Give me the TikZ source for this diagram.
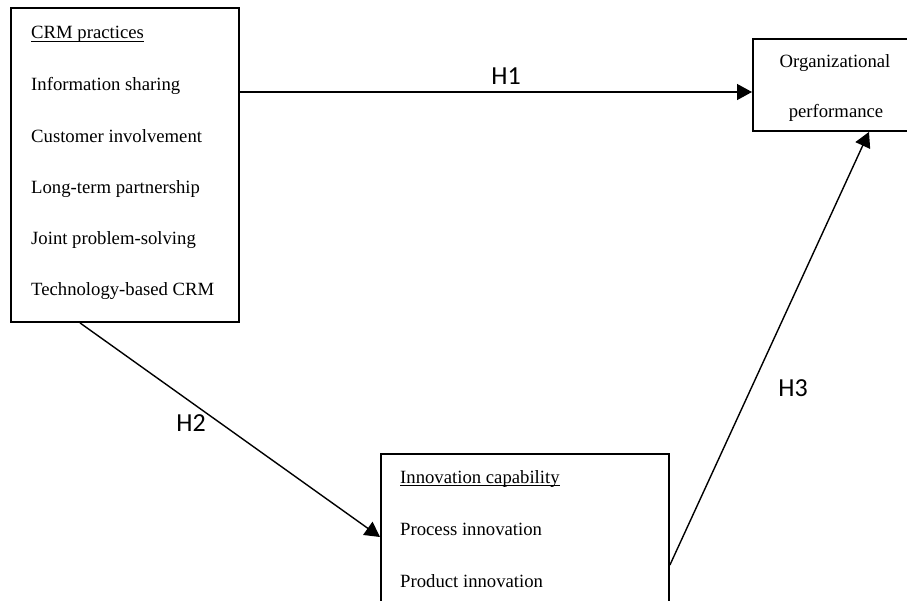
\documentclass[tikz,border=0pt]{standalone}
\usepackage{fontspec}
\setmainfont{Liberation Serif}
\newfontfamily\hfont{Carlito}
\usetikzlibrary{arrows.meta}
\newcommand\myul[1]{\setbox0\hbox{#1}\rlap{\rule[-3.2pt]{\wd0}{1pt}}\box0}
\tikzset{
  box/.style={draw, line width=1.9pt, rectangle, anchor=north west, inner sep=0pt},
  txt/.style={anchor=base west, inner sep=0pt, font=\fontsize{18.7}{20}\selectfont},
  ctxt/.style={anchor=base, inner sep=0pt, font=\fontsize{18.7}{20}\selectfont},
  hyp/.style={inner sep=0pt, font=\hfont\fontsize{26}{28}\selectfont},
  arr/.style={line width=1.4pt, -{Triangle[length=15pt,width=16pt]}}
}
\begin{document}
\begin{tikzpicture}[x=1pt,y=-1pt]
\clip (0,0) rectangle (907,600);
\fill[white] (0,0) rectangle (907,600);
% boxes
\node[box, minimum width=228pt, minimum height=314pt] (crm) at (10,7) {};
\node[box, minimum width=170pt, minimum height=92pt] (org) at (752,38) {};
\node[box, minimum width=288pt, minimum height=180pt] (inn) at (380,453) {};
% CRM texts
\node[txt] (c0) at (31,38.5) {\myul{CRM practices}};
\node[txt] (c1) at (31,90.5) {Information sharing};
\node[txt] (c2) at (31,142) {Customer involvement};
\node[txt] (c3) at (31,193) {Long-term partnership};
\node[txt] (c4) at (31,244) {Joint problem-solving};
\node[txt] (c5) at (31,295.5) {Technology-based CRM};
% org texts
\node[ctxt] (o1) at (835,67) {Organizational};
\node[ctxt] (o2) at (836,117) {performance};
% innovation texts
\node[txt] (i0) at (400,483) {\myul{Innovation capability}};
\node[txt] (i1) at (400,535) {Process innovation};
\node[txt] (i2) at (400,587) {Product innovation};
% connectors
\draw[arr] ([yshift=-85pt]crm.north east) -- ([yshift=-54pt]org.north west);
\draw[arr] ([xshift=70pt]crm.south west) -- ([yshift=-84pt]inn.north west);
\draw[arr] ([yshift=-112pt]inn.north east) -- ([xshift=117pt]org.south west);
% labels
\node[hyp] (h1) at (506,76) {H1};
\node[hyp] (h2) at (191,423) {H2};
\node[hyp] (h3) at (793,388) {H3};
\end{tikzpicture}
\end{document}
